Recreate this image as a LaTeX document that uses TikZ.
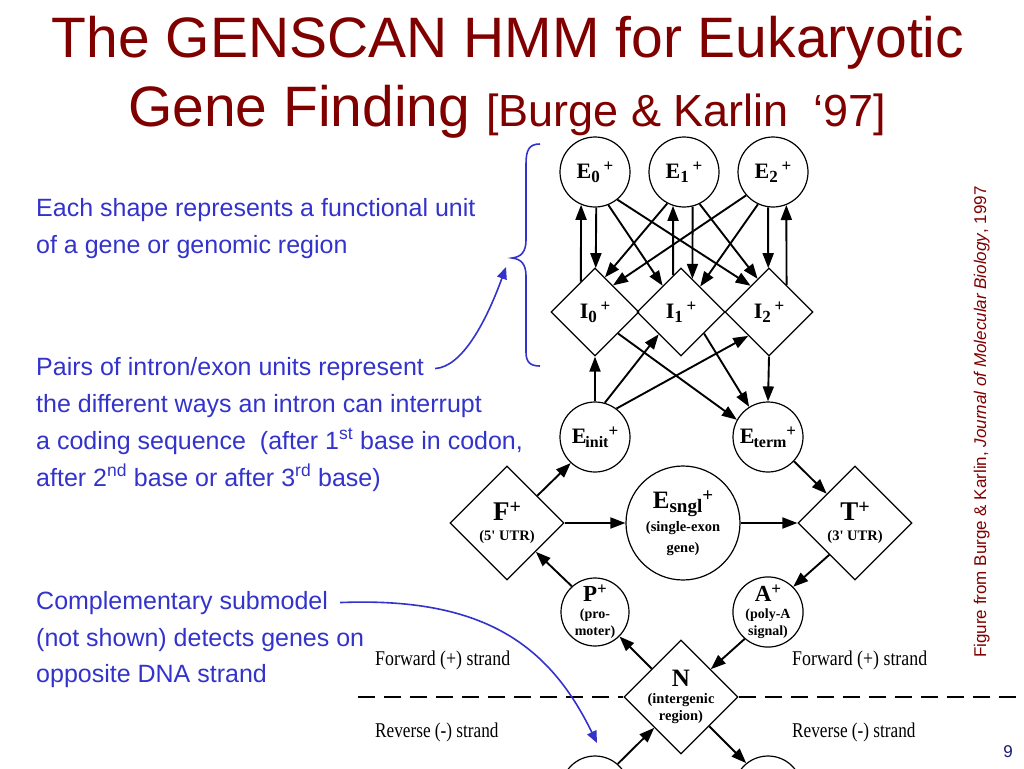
\documentclass[tikz,border=0pt]{standalone}
\usepackage{fontspec}
\setmainfont{Liberation Sans}
\newfontfamily\tms{Liberation Serif}
\usetikzlibrary{shapes.geometric,arrows.meta}
\definecolor{ttl}{RGB}{128,0,0}
\definecolor{txb}{RGB}{51,51,204}
\definecolor{pgn}{RGB}{25,25,112}
\newcommand\Sb[2][17]{\raisebox{-4pt}{\fontsize{#1}{#1}\selectfont #2}}
\newcommand\Sp[2][17]{\raisebox{7pt}{\fontsize{#1}{#1}\selectfont #2}}
\begin{document}
\begin{tikzpicture}[x=1pt,y=-1pt,
  circ/.style={circle,draw,line width=1.2pt,minimum size=70pt,inner sep=0pt,
    font=\tms\bfseries\fontsize{22}{22}\selectfont},
  dia/.style={diamond,draw,line width=1.2pt,minimum width=88pt,minimum height=88pt,inner sep=0pt,
    font=\tms\bfseries\fontsize{22}{22}\selectfont},
  bigdia/.style={diamond,draw,line width=1.2pt,minimum width=114pt,minimum height=114pt,inner sep=-16pt,
    align=center,font=\tms\bfseries\fontsize{14.5}{17}\selectfont},
  arr/.style={line width=1.9pt,-{Triangle[length=15pt,width=11pt]}},
  btxt/.style={anchor=base west,inner sep=0pt,text=txb,font=\fontsize{25}{25}\selectfont},
  strand/.style={anchor=base west,inner sep=0pt,font=\tms\fontsize{21}{21}\selectfont},
  bl/.style={draw=txb,line width=1.6pt},
  blarr/.style={bl,-{Triangle[length=12pt,width=10pt]}}]
\useasboundingbox (0,0) rectangle (1024,768);
\begin{scope}
\clip (0,0) rectangle (1024,768);
% title
\node[anchor=base,inner sep=0pt,text=ttl,font=\fontsize{57}{57}\selectfont] (t0) at (508,58) {The GENSCAN HMM for Eukaryotic};
\node[anchor=base west,inner sep=0pt,text=ttl] (t0b) at (128,126) {\fontsize{57}{57}\selectfont Gene Finding \fontsize{45}{45}\selectfont[Burge \& Karlin~~‘97]};
% left texts
\node[btxt] (t1) at (36,216) {Each shape represents a functional unit};
\node[btxt] (t2) at (36,253) {of a gene or genomic region};
\node[btxt] (t3) at (36,375) {Pairs of intron/exon units represent};
\node[btxt] (t4) at (36,412) {the different ways an intron can interrupt};
\node[btxt] (t5) at (36,449) {a coding sequence~~(after 1\textsuperscript{st} base in codon,};
\node[btxt] (t6) at (36,486) {after 2\textsuperscript{nd} base or after 3\textsuperscript{rd} base)};
\node[btxt] (c1) at (36,609) {Complementary submodel};
\node[btxt] (c2) at (36,646) {(not shown) detects genes on};
\node[btxt] (c3) at (36,682) {opposite DNA strand};
% citation
\node[rotate=90,anchor=base west,inner sep=0pt,text=ttl,font=\fontsize{17}{17}\selectfont] (cite) at (986,658) {Figure from Burge \& Karlin, \textit{Journal of Molecular Biology}, 1997};
\node[text=pgn,inner sep=0pt,font=\fontsize{17}{17}\selectfont] (pg) at (1008,752) {9};
% nodes
\node[circ] (E0) at (595,172) {E\Sb{0}\,\Sp{+}};
\node[circ] (E1) at (684,172) {E\Sb{1}\,\Sp{+}};
\node[circ] (E2) at (773,172) {E\Sb{2}\,\Sp{+}};
\node[dia] (I0) at (595,312) {I\Sb{0}\,\Sp{+}};
\node[dia] (I1) at (681,312) {I\Sb{1}\,\Sp{+}};
\node[dia] (I2) at (769,312) {I\Sb{2}\,\Sp{+}};
\node[circ] (Ei) at (595,437) {E\kern-1pt\Sb[16]{init}\Sp{+}};
\node[circ] (Et) at (768,437) {E\kern-1pt\Sb[16]{term}\Sp{+}};
\node[bigdia] (F) at (507,523) {{\fontsize{27}{27}\selectfont F\Sp[20]{+}}\\[3pt](5' UTR)};
\node[bigdia] (T) at (855,523) {{\fontsize{27}{27}\selectfont T\Sp[20]{+}}\\[3pt](3' UTR)};
\node[circ,minimum size=114pt,align=center,font=\tms\bfseries\fontsize{14.5}{21}\selectfont] (Es) at (683,523) {{\fontsize{25}{25}\selectfont E\Sb[19]{sngl}\Sp[19]{+}}\\[2pt](single-exon\\gene)};
\node[circ,minimum size=68pt,align=center,font=\tms\bfseries\fontsize{14}{17}\selectfont] (P) at (595,612) {{\fontsize{23}{23}\selectfont P\Sp[17]{+}}\\(pro-\\moter)};
\node[circ,minimum size=68pt,align=center,font=\tms\bfseries\fontsize{14}{17}\selectfont] (A) at (768,612) {{\fontsize{23}{23}\selectfont A\Sp[17]{+}}\\(poly-A\\signal)};
\node[bigdia] (N) at (681,697) {{\fontsize{25}{25}\selectfont N}\\(intergenic\\region)};
\node[circ,minimum size=68pt] (Pm) at (595,790) {};
\node[circ,minimum size=68pt] (Am) at (768,790) {};
% strand labels and dashed line
\node[strand] (fl) at (375,665) {\scalebox{0.85}[1]{Forward (+) strand}};
\node[strand] (fr) at (792,665) {\scalebox{0.85}[1]{Forward (+) strand}};
\node[strand] (rl) at (375,737) {\scalebox{0.82}[1]{Reverse (-) strand}};
\node[strand] (rr) at (792,737) {\scalebox{0.82}[1]{Reverse (-) strand}};
\coordinate (dl) at (358,697);
\coordinate (dr) at (1018,697);
\draw[line width=1.8pt,dash pattern=on 17pt off 9pt] (dl) -- (N.west);
\draw[line width=1.8pt,dash pattern=on 17pt off 9pt] (N.east) -- (dr);
% E <-> I verticals
\draw[arr] (I0.115) -- (E0.-113.6);
\draw[arr] (E0.-88) -- (I0.89);
\draw[arr] (I1.102.5) -- (E1.-108.3);
\draw[arr] (E1.-76.8) -- (I1.71.6);
\draw[arr] (E2.-98.2) -- (I2.91.3);
\draw[arr] (I2.57.8) -- (E2.-68.2);
% E -> I diagonals
\draw[arr] (E0.-68.5) -- (I1.125.1);
\draw[arr] (E0.-51.8) -- (I2.125.1);
\draw[arr] (E1.-118.7) -- (I0.74.9);
\draw[arr] (E1.-64.1) -- (I2.109.4);
\draw[arr] (E2.-139) -- (I0.56.3);
\draw[arr] (E2.-115.8) -- (I1.53.7);
% Einit / Eterm
\draw[arr] (Ei.north) -- (I0.south);
\draw[arr] (Ei.74) -- (I1.-135);
\draw[arr] (Ei.53.7) -- (I2.-131.3);
\draw[arr] (I0.-43.7) -- (Et.151.4);
\draw[arr] (I1.-43.8) -- (Et.122);
\draw[arr] (I2.south) -- (Et.north);
% middle
\draw[arr] (F.42.1) -- (Ei.-133.9);
\draw[arr] (F.east) -- (Es.west);
\draw[arr] (Es.east) -- (T.west);
\draw[arr] (Et.-43.9) -- (T.134);
\draw[arr] (T.-129.5) -- (A.45);
\draw[arr] (P.132.8) -- (F.-45);
\draw[arr] (N.136) -- (P.-45);
\draw[arr] (A.-131.5) -- (N.43);
\draw[arr] (Pm.49.8) -- (N.-131.3);
\draw[arr] (N.-46) -- (Am.129);
% blue brace and arrows
\draw[bl] (540,144) .. controls (529,144) and (526,150) .. (526,164) -- (526,240) .. controls (526,252) and (521,257) .. (512,258) .. controls (521,259) and (526,264) .. (526,276) -- (526,352) .. controls (526,362) and (530,366) .. (540,366);
\coordinate (bt) at (506,267);
\draw[blarr] ([xshift=11pt]t3.east) .. controls (462,367) and (486,322) .. (bt);
\coordinate (ct) at (597,743);
\draw[blarr] ([xshift=12pt]c1.east) .. controls (480,597) and (548,642) .. (ct);
\end{scope}
\end{tikzpicture}
\end{document}
